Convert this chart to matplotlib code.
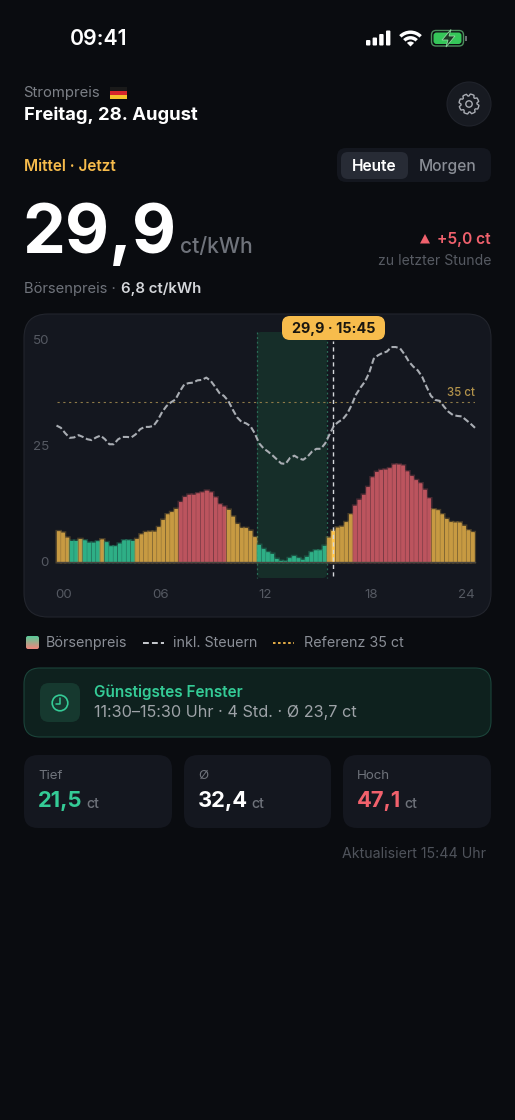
import numpy as np
import matplotlib
matplotlib.use('Agg')
import matplotlib.pyplot as plt
import matplotlib.patheffects as pe
from matplotlib.patches import FancyBboxPatch, Rectangle, Circle, Wedge, Polygon

plt.rcParams['font.family'] = ['Inter', 'DejaVu Sans']

# Boersenpreis per quarter hour, ct/kWh
spot = [6.7, 6.4, 5.3, 4.6, 4.6, 5.0, 4.7, 4.2, 4.2, 4.5, 4.9, 4.3,
        3.4, 3.4, 4.0, 4.7, 4.7, 4.6, 5.0, 6.0, 6.5, 6.6, 6.6, 7.6,
        9.2, 10.4, 10.9, 11.6, 13.1, 14.2, 14.7, 14.7, 15.0, 15.2, 15.6, 15.2,
        14.1, 12.6, 12.1, 11.4, 9.9, 8.3, 7.4, 7.4, 6.8, 5.4, 3.7, 2.8,
        2.1, 1.75, 0.65, 0.2, 0.1, 0.8, 1.25, 0.8, 0.45, 1.1, 2.1, 2.5,
        2.5, 3.5, 5.3, 6.8, 7.5, 7.7, 8.7, 10.4, 12.3, 13.6, 14.7, 16.4,
        18.5, 19.7, 20.1, 20.2, 20.5, 21.3, 21.3, 21.1, 19.8, 18.8, 17.9, 17.2,
        15.8, 13.9, 11.5, 11.3, 10.4, 9.4, 8.7, 8.6, 8.6, 7.9, 6.9, 6.5]
# inkl. Steuern per quarter hour, ct/kWh
total = [29.9, 29.4, 28.2, 27.2, 27.3, 27.8, 27.4, 26.9, 26.7, 27.3, 27.7, 26.9,
         25.8, 25.8, 26.9, 27.4, 27.4, 27.3, 28.0, 29.1, 29.6, 29.6, 29.8, 31.1,
         32.9, 34.2, 35.0, 35.6, 37.4, 38.9, 39.2, 39.3, 39.8, 39.9, 40.4, 39.7,
         38.4, 37.0, 36.4, 35.3, 33.4, 31.7, 30.7, 30.4, 29.8, 28.2, 26.0, 24.9,
         24.2, 23.4, 22.5, 21.6, 21.5, 22.8, 23.3, 22.7, 22.4, 23.1, 24.2, 24.8,
         24.8, 26.0, 28.0, 29.9, 30.7, 31.3, 32.5, 34.4, 36.7, 38.2, 39.5, 41.5,
         44.5, 45.3, 45.8, 46.1, 47.1, 47.1, 46.8, 45.5, 43.9, 42.8, 42.0, 40.6,
         38.4, 36.4, 35.5, 35.3, 34.0, 32.9, 32.2, 32.0, 31.9, 31.1, 30.3, 29.4]
# colour class per bar, as runs of (class, number of bars)
bar_class_runs = [('o', 3), ('g', 2), ('o', 1), ('g', 4), ('o', 1), ('g', 7), ('o', 10), ('r', 11),
                  ('o', 7), ('g', 16), ('o', 6), ('r', 18), ('o', 10)]
reference = 35
window_start, window_end = 46, 62   # 11:30-15:30
now_idx = 63                        # 15:45
y_ticks = ['50', '25', '0']
x_ticks = ['00', '06', '12', '18', '24']

BG = '#0A0C10'
CARD = '#14171F'
ORANGE = '#F7BC4C'
GREEN = '#34CB96'
RED = '#F0616D'
bar_colors = {'o': '#C79A42', 'g': '#2EAF86', 'r': '#BC545E'}

fig = plt.figure(figsize=(5.15, 11.2), dpi=100)
fig.patch.set_facecolor(BG)
ui = fig.add_axes([0, 0, 1, 1], zorder=0)
ui.set_xlim(0, 515)
ui.set_ylim(1120, 0)
ui.axis('off')


def rbox(x0, y0, x1, y1, r, fc, ec='none', lw=0.8, z=1, ax=ui):
    p = FancyBboxPatch((x0, y0), x1 - x0, y1 - y0, boxstyle=f'round,pad=0,rounding_size={r}',
                       facecolor=fc, edgecolor=ec, linewidth=lw, zorder=z)
    ax.add_patch(p)
    return p


def txt(x, y, s, size, color, weight='normal', ha='left', z=5):
    # va=center sits a bit high for this font, so nudge down
    return ui.text(x, y + 1.3, s, fontsize=size, color=color, fontweight=weight, ha=ha, va='center', zorder=z)


# status bar
txt(70, 38, '09:41', 15.3, 'white', 'semibold')
for x0, h in zip([366, 372.6, 379.2, 386], [5.5, 8, 11.5, 15]):
    rbox(x0, 45.5 - h, x0 + 4.4, 45.5, 1, 'white')
for r, w in [(16, 3.4), (10.4, 3.4), (5, 5)]:
    ui.add_patch(Wedge((410.5, 46.5), r, 225, 315, width=w, facecolor='white', edgecolor='none'))
rbox(431.5, 30.5, 463.5, 46, 4.5, 'none', ec='#4E8F5E', lw=1.0)
rbox(433.5, 32.5, 461.5, 44, 3, '#35C759')
ui.add_patch(Rectangle((465, 35.5), 1.5, 5.5, facecolor='#6A6E72', edgecolor='none'))
ui.add_patch(Polygon([[451, 29.5], [442, 40], [448, 40], [446, 47], [455, 36], [449, 36]],
                     facecolor='#1E3A26', edgecolor='#8FD9A0', linewidth=0.6, zorder=3))

# header
txt(23.5, 91.5, 'Strompreis', 10.7, '#7C8087')
for y0, c in zip([87, 91, 95], ['#1A1A1A', '#D8262C', '#F6C32C']):
    ui.add_patch(Rectangle((110, y0), 17, 4, facecolor=c, edgecolor='none'))
txt(24, 113.5, 'Freitag, 28. August', 13.3, 'white', 'bold')

ui.add_patch(Circle((469, 104), 22, facecolor='#171A21', edgecolor='#20232B', linewidth=0.8))
gear_t = np.radians(np.arange(0, 360, 360 / 48) + 7.5)
gear_r = np.tile([10, 10, 10, 10, 8, 8], 8)
ui.add_patch(Polygon(np.c_[469 + gear_r * np.cos(gear_t), 104 + gear_r * np.sin(gear_t)],
                     facecolor='none', edgecolor='#A9ACB3', linewidth=1.0, joinstyle='round'))
ui.add_patch(Circle((469, 104), 3.2, facecolor='none', edgecolor='#A9ACB3', linewidth=1.0))

txt(24, 165, 'Mittel · Jetzt', 11, ORANGE, 'semibold')
rbox(337, 148, 491, 182, 9, CARD)
rbox(341, 152, 408, 179, 7, '#272B35')
txt(374, 165, 'Heute', 11.2, 'white', 'semibold', ha='center')
txt(448, 165, 'Morgen', 11.2, '#8A8E96', 'medium', ha='center')

# current price
ui.text(22, 253.5, '29,9', fontsize=49, color='white', fontweight='bold', ha='left', va='baseline', zorder=5)
txt(180, 246, 'ct/kWh', 15.2, '#6F737B', 'medium')
ui.add_patch(Polygon([[420, 243.5], [430, 243.5], [425, 234]], facecolor=RED, edgecolor='none'))
txt(491, 238.5, '+5,0 ct', 11.2, RED, 'semibold', ha='right')
txt(491, 260, 'zu letzter Stunde', 10.1, '#565A62', ha='right')
txt(24, 287.5, 'Börsenpreis ·', 10.6, '#6F737B')
txt(121, 287.5, '6,8 ct/kWh', 10.8, '#D4D6DA', 'semibold')

# chart card
rbox(24, 314, 491, 617, 24, CARD, ec='#22252D', lw=0.8)
plot_l, plot_r, y0_px, y50_px = 56.5, 475.0, 562.0, 333.8
ax = fig.add_axes([plot_l / 515, 1 - y0_px / 1120, (plot_r - plot_l) / 515, (y0_px - y50_px) / 1120],
                  zorder=1)
ax.set_xlim(-0.5, 95.5)
ax.set_ylim(0, 50)
ax.axis('off')
ax.patch.set_alpha(0)

idx = np.arange(len(spot))
classes = [c for c, n in bar_class_runs for _ in range(n)]
px_per_bar = (plot_r - plot_l) / len(spot)

# cheapest window band sits behind the chart axes
wx0 = plot_l + window_start * px_per_bar
wx1 = plot_l + window_end * px_per_bar
rbox(wx0, 332, wx1, 578, 4, '#162E29', z=2)
for wx in (wx0, wx1):
    ui.plot([wx, wx], [332, 578], color='#2A6E58', lw=0.9, dashes=(1.5, 2.2), zorder=3)

colors = [bar_colors[c] for c in classes]
colors[now_idx] = '#FFC64F'
bars = ax.bar(idx, spot, width=0.8, color=colors, linewidth=0, clip_on=False, zorder=2)
for b, c in zip(bars, colors):
    b.set_snap(False)
    b.set_path_effects([pe.withStroke(linewidth=2.2, foreground=c, alpha=0.3), pe.Normal()])
ax.axhline(0, color='#4A4640', lw=1.0, zorder=3, clip_on=False)
ax.axhline(reference, color='#8E7A48', lw=0.8, dashes=(2, 3.2), zorder=1)

line_x = idx * 96 / 95 - 0.5
ax.plot(line_x, total, color='#A9ADB3', lw=1.5, dashes=(3.0, 1.3), zorder=4, clip_on=False)
ax.plot([now_idx, now_idx], [-3, 48.5], color='#D5D7DB', lw=1.0, dashes=(3, 2.4), zorder=5, clip_on=False)

for y, s in zip([340, 446, 561.5], y_ticks):
    txt(49, y, s, 9.6, '#555962', ha='right')
for x, s in zip([64, 161, 265, 371, 466], x_ticks):
    txt(x, 594, s, 9.6, '#555962', ha='center')
txt(475, 392, '35 ct', 8.3, '#B3934B', 'medium', ha='right')

# tooltip, on top of the chart axes
top = fig.add_axes([0, 0, 1, 1], zorder=2)
top.set_xlim(0, 515)
top.set_ylim(1120, 0)
top.axis('off')
top.patch.set_alpha(0)
rbox(282, 316, 385, 340, 8, ORANGE, ax=top)
top.text(333.5, 329, '29,9 · 15:45', fontsize=10.4, color='#1A1710', fontweight='bold', ha='center', va='center')

# legend
grad = np.linspace(0, 1, 16)[:, None, None] * (np.array([0.93, 0.53, 0.49]) - np.array([0.36, 0.79, 0.60])) \
    + np.array([0.36, 0.79, 0.60])
im = ui.imshow(grad, extent=(26, 39, 649, 636), aspect='auto', zorder=4)
im.set_clip_path(rbox(26, 636, 39, 649, 2, 'none'))
ui.set_xlim(0, 515)
ui.set_ylim(1120, 0)
txt(46, 642, 'Börsenpreis', 10.3, '#8B8F97')
ui.plot([143, 164], [642.5, 642.5], color='#C9CCD1', lw=1.4, dashes=(3, 1.6))
txt(173, 642, 'inkl. Steuern', 10.3, '#8B8F97')
ui.plot([273, 294], [642.5, 642.5], color=ORANGE, lw=1.3, dashes=(1.4, 1.4))
txt(304, 642, 'Referenz 35 ct', 10.3, '#8B8F97')

# cheapest window card
rbox(24, 668, 491, 737, 16, '#0E211E', ec='#1B443A', lw=0.8)
rbox(40, 683, 80, 722, 9, '#16392F')
ui.add_patch(Circle((60, 703), 7.8, facecolor='none', edgecolor=GREEN, linewidth=1.2))
ui.plot([60, 60, 55.5], [698, 703.5, 703.5], color=GREEN, lw=1.1, solid_capstyle='round')
txt(94, 691, 'Günstigstes Fenster', 11, GREEN, 'semibold')
txt(94, 711.5, '11:30–15:30 Uhr · 4 Std. · Ø 23,7 ct', 11.7, '#9EA3A8')

# stat cards
stat_x = [(24, 172), (184, 331), (343, 491)]
stat_labels = ['Tief', 'Ø', 'Hoch']
stat_values = ['21,5', '32,4', '47,1']
stat_colors = [GREEN, 'white', '#F2616C']
stat_unit_x = [86, 251, 404]
for (x0, x1), lab, val, col, ux in zip(stat_x, stat_labels, stat_values, stat_colors, stat_unit_x):
    rbox(x0, 755, x1, 828, 14, CARD)
    txt(x0 + 14, 775, lab, 9.6, '#6F737B')
    txt(x0 + 14, 800, val, 15.8, col, 'bold')
    txt(ux, 802.5, 'ct', 10.2, '#6F737B', 'medium')

txt(486, 852.5, 'Aktualisiert 15:44 Uhr', 10.2, '#4F535B', ha='right')

fig.savefig('out.png', dpi=100, facecolor=BG)
